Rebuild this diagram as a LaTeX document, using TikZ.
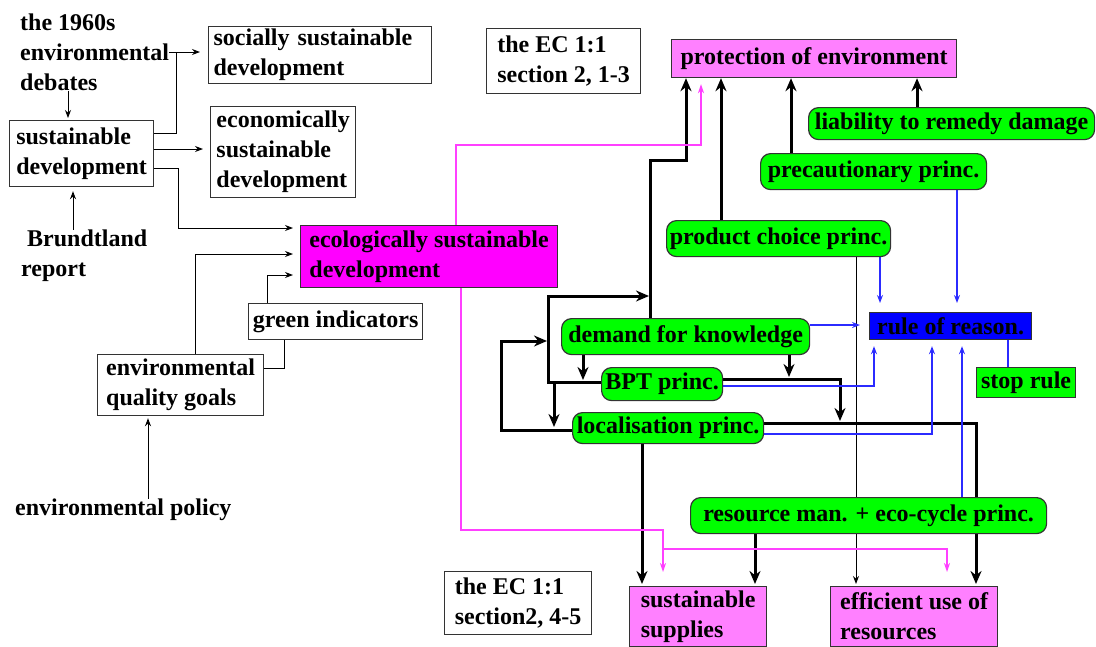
\documentclass[tikz,border=0pt]{standalone}
\usepackage{fontspec}
\setmainfont{Liberation Serif}
\usetikzlibrary{arrows.meta,backgrounds}

\definecolor{princgreen}{HTML}{00FF00}
\definecolor{ecomagenta}{HTML}{FF00FF}
\definecolor{goalpink}{HTML}{FF80FF}
\definecolor{reasonblue}{HTML}{0000FF}
\definecolor{linkblue}{HTML}{2B2BFF}
\definecolor{linkpink}{HTML}{FF40FF}

\begin{document}
\begin{tikzpicture}[
  x=1pt, y=-1pt,
  every node/.style={font=\fontsize{24}{30}\selectfont\bfseries},
  plaintext/.style={align=left, inner sep=0pt, anchor=west},
  box/.style={draw=black!80, line width=1.2pt, fill=white, anchor=north west, align=left, inner xsep=3pt, inner ysep=1pt},
  wh/.style 2 args={minimum width=#1pt, minimum height=#2pt},
  princ/.style={box, fill=princgreen, rounded corners=10pt, inner xsep=2pt},
  goal/.style={box, fill=goalpink},
  link/.style={line width=1pt, -{Stealth[length=8pt, width=6pt]}},
  flow/.style={line width=3pt, -{Stealth[length=13pt, width=11pt]}},
  bluelink/.style={link, linkblue, line width=1.3pt},
  pinklink/.style={line width=1.5pt, linkpink, -{Stealth[length=9pt, width=6pt]}}
]
  \useasboundingbox (0,0) rectangle (1096,646);

  % ==========================================
  % 1. LEFT COLUMN
  % ==========================================
  \node[plaintext] (debates) at (20,52) {the 1960s\\environmental\\debates};
  \node[box, wh={144}{66}] (sd) at (9,120) {sustainable\\development};
  \node[box, wh={223}{57}, text width=213pt, inner xsep=5pt] (social) at (208,26) {socially sustainable\\development};
  \node[box, wh={145}{91}] (econ) at (210,106) {economically\\sustainable\\development};
  \node[box, wh={257}{62}, fill=ecomagenta] (eco) at (300,225) {ecologically sustainable\\development};
  \node[plaintext] (brund) at (21,256) {\hspace*{6pt}Brundtland\\report};
  \node[box, wh={174}{36}, inner xsep=2pt] (gi) at (248,303) {green indicators};
  \node[box, wh={166}{61}] (envq) at (97,354) {environmental\\quality goals};
  \node[plaintext] (policy) at (15,510) {environmental policy};

  % ==========================================
  % 2. PRINCIPLES AND GOALS
  % ==========================================
  \node[box, wh={154}{65}] (ec13) at (486,28) {the EC 1:1\\section 2, 1-3};
  \node[goal, wh={285}{38}] (protect) at (671,39) {protection of environment};
  \node[princ, wh={286}{32}] (liab) at (808,107) {liability to remedy damage};
  \node[princ, wh={226}{36}] (precaut) at (760,153) {precautionary princ.};
  \node[princ, wh={224}{36}] (product) at (666,220) {product choice princ.};
  \node[princ, wh={248}{36}] (demand) at (561,318) {demand for knowledge};
  \node[princ, wh={121}{33}] (bpt) at (601,367) {BPT princ.};
  \node[princ, wh={191}{31}] (local) at (572,412) {localisation princ.};
  \node[box, wh={162}{27}, fill=reasonblue, inner ysep=0pt] (reason) at (869,312) {rule of reason.};
  \node[box, wh={99}{30}, fill=princgreen, inner xsep=2pt] (stop) at (976,367) {stop rule};
  \node[princ, wh={356}{36}] (resource) at (690,497) {resource man. + eco-cycle princ.};
  \node[box, wh={147}{63}] (ec45) at (444,571) {the EC 1:1\\section2, 4-5};
  \node[goal, wh={137}{60}] (supply) at (629,586) {sustainable\\supplies};
  \node[goal, wh={167}{60}] (effic) at (830,586) {efficient use of\\resources};

  \begin{scope}[on background layer]
    % ==========================================
    % 3. LEFT LINKS
    % ==========================================
    \draw[link, shorten >=2pt] (debates.south -| 68,0) -- (sd.north -| 68,0);
    \draw[line width=1pt] (debates.east) -- (176,52);
    \draw[link, shorten >=8pt] (sd.east |- 0,133) -| (176,52) -- (social.west |- 0,52);
    \draw[link, shorten >=7pt] (sd.east |- 0,149) -- (econ.west |- 0,149);
    \draw[link, shorten >=7pt] (sd.east |- 0,168) -| (178,228) -- (eco.west |- 0,228);
    \draw[link, shorten >=4pt] (brund.north -| 73,0) -- (sd.south -| 73,0);
    \draw[link, shorten >=7pt] (envq.north -| 195,0) |- (eco.west |- 0,254);
    \draw[link, shorten >=7pt] (gi.north -| 267,0) |- (eco.west |- 0,275);
    \draw[line width=1pt] (envq.east |- 0,368) -| (gi.south -| 284,0);
    \draw[link, shorten >=2pt] (policy.north -| 148,0) -- (envq.south -| 148,0);

    % ==========================================
    % 4. BLACK FLOWS
    % ==========================================
    \draw[flow] (demand.north -| 650,0) -- (650,160) -| (protect.south -| 686,0);
    \draw[flow] (product.north -| 721,0) -- (protect.south -| 721,0);
    \draw[flow] (precaut.north -| 791,0) -- (protect.south -| 791,0);
    \draw[flow] (liab.north -| 917,0) -- (protect.south -| 917,0);
    \draw[flow, shorten >=1pt] (bpt.west |- 0,382) -| (548,296) -- (650,296);
    \draw[flow, shorten >=1pt] (local.west |- 0,430) -| (501,341) -- (548,341);
    \draw[flow, shorten >=3pt] (554,382) -- (554,430);
    \draw[flow, shorten >=2pt] (demand.south -| 583,0) -- (583,382);
    \draw[flow, shorten >=2pt] (demand.south -| 789,0) -- (789,379);
    \draw[flow, shorten >=2pt] (bpt.east |- 0,379) -| (840,423);
    \draw[flow, -] (local.east |- 0,423) -| (resource.north -| 976,0);
    \draw[flow, shorten >=2pt] (local.south -| 642,0) -- (supply.north -| 642,0);
    \draw[flow, shorten >=2pt] (resource.south -| 755,0) -- (supply.north -| 755,0);
    \draw[flow, shorten >=2pt] (resource.south -| 976,0) -- (effic.north -| 976,0);
    \draw[link, shorten >=2pt] (product.south -| 856,0) -- (effic.north -| 856,0);

    % ==========================================
    % 5. RULE OF REASON (blue)
    % ==========================================
    \draw[bluelink, shorten >=9pt] (product.south -| 880,0) -- (reason.north -| 880,0);
    \draw[bluelink, shorten >=9pt] (precaut.south -| 957,0) -- (reason.north -| 957,0);
    \draw[bluelink, shorten >=9pt] (demand.east |- 0,325) -- (reason.west |- 0,325);
    \draw[bluelink, shorten >=6pt] (bpt.east |- 0,386) -| (reason.south -| 874,0);
    \draw[bluelink, shorten >=6pt] (local.east |- 0,434) -| (reason.south -| 932,0);
    \draw[bluelink, shorten >=6pt] (resource.north -| 962,0) -- (reason.south -| 962,0);
    \draw[linkblue, line width=1.3pt] (reason.south -| 1008,0) -- (stop.north -| 1008,0);

    % ==========================================
    % 6. ECOLOGICAL LINKS (magenta)
    % ==========================================
    \draw[pinklink, shorten >=6pt] (eco.north -| 456,0) |- (701,145) -- (protect.south -| 701,0);
    \draw[pinklink, shorten >=14pt] (eco.south -| 461,0) |- (663,530) -- (supply.north -| 663,0);
    \draw[pinklink, shorten >=14pt] (663,549) -| (effic.north -| 947,0);
  \end{scope}

\end{tikzpicture}
\end{document}
